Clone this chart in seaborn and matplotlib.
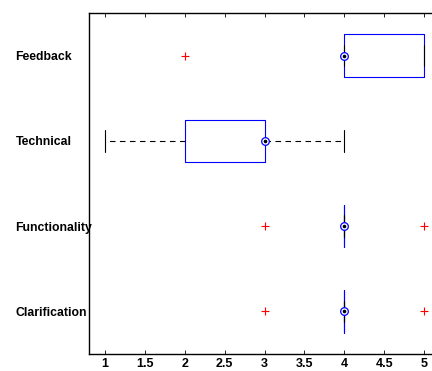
import numpy as np
import pandas as pd
import matplotlib
matplotlib.use("Agg")
import matplotlib.pyplot as plt
import seaborn as sns

categories = ["Feedback", "Technical", "Functionality", "Clarification"]
feedback = [2, 4, 4, 4, 4, 5, 5, 5]
technical = [1, 2, 2, 3, 3, 3, 3, 4]
functionality = [3, 4, 4, 4, 4, 4, 4, 5]
clarification = [3, 4, 4, 4, 4, 4, 4, 5]
xticks = [1, 1.5, 2, 2.5, 3, 3.5, 4, 4.5, 5]

series = [feedback, technical, functionality, clarification]
df = pd.DataFrame({
    "category": np.repeat(categories, [len(s) for s in series]),
    "score": np.concatenate(series),
})

sns.set_style("ticks")
plt.rcParams["font.family"] = ["Liberation Sans", "DejaVu Sans"]
plt.rcParams["text.color"] = "black"
plt.rcParams["xtick.color"] = "black"
plt.rcParams["ytick.color"] = "black"
plt.rcParams["xtick.labelcolor"] = "black"
plt.rcParams["ytick.labelcolor"] = "black"

fig = plt.figure(figsize=(4.32, 3.71), dpi=100)
ax = fig.add_axes([89 / 432, (371 - 354) / 371, 351 / 432, 341 / 371])

sns.boxplot(
    data=df, x="score", y="category", order=categories, orient="h",
    fill=False, color="blue", width=0.5, linewidth=0.8, whis=1.5,
    whiskerprops=dict(color="black", linestyle=(0, (5, 4)), linewidth=0.8),
    capprops=dict(color="black", linewidth=0.8),
    medianprops=dict(visible=False),
    flierprops=dict(marker="+", markeredgecolor="red", markerfacecolor="red",
                    markersize=6, markeredgewidth=0.8),
    ax=ax,
)

medians = [np.median(s) for s in series]
ax.plot(medians, range(len(categories)), linestyle="none", marker="o",
        markersize=5.5, markerfacecolor="white", markeredgecolor="blue",
        markeredgewidth=0.9, zorder=5)
ax.plot(medians, range(len(categories)), linestyle="none", marker="o",
        markersize=1.6, markerfacecolor="black", markeredgecolor="black",
        zorder=6)

ax.set_xlim(0.8, 5.2)
ax.set_ylim(3.5, -0.5)
ax.set_xticks(xticks)
ax.set_xticklabels([f"{t:g}" for t in xticks], fontweight="bold", fontsize=9,
                   color="black")
ax.set_xlabel("")
ax.set_ylabel("")
ax.tick_params(axis="x", direction="in", top=True, bottom=True, length=3,
               width=0.6, pad=3, colors="black")
ax.tick_params(axis="y", length=0, pad=53, colors="black")
for lab in ax.get_yticklabels():
    lab.set_fontweight("bold")
    lab.set_fontsize(8.8)
    lab.set_color("black")
    lab.set_horizontalalignment("left")
for sp in ax.spines.values():
    sp.set_linewidth(1.0)
    sp.set_color("black")

fig.savefig("out.png", dpi=100)
